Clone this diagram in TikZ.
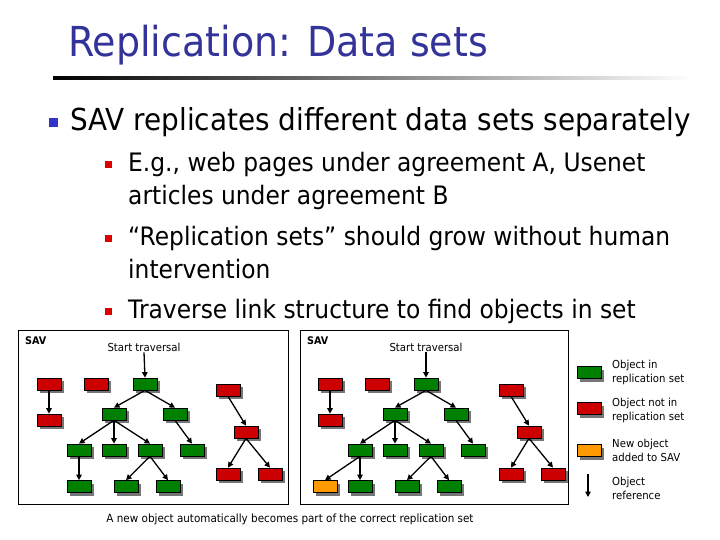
\documentclass[tikz,border=0pt]{standalone}
\usepackage{fontspec}
\setmainfont[FakeStretch=0.92]{DejaVu Sans}
\usetikzlibrary{arrows.meta,shadows}
\definecolor{titleblue}{RGB}{51,51,153}
\definecolor{bulletblue}{RGB}{51,51,204}
\definecolor{bulletred}{RGB}{221,0,0}
\definecolor{objgreen}{RGB}{0,128,0}
\definecolor{objred}{RGB}{204,0,0}
\definecolor{objorange}{RGB}{255,153,0}
\definecolor{shadowgray}{RGB}{118,118,118}
\begin{document}
\begin{tikzpicture}[x=1pt,y=-1pt,
  obj/.style={draw=black, line width=0.7pt, minimum width=24pt, minimum height=12pt, inner sep=0pt,
    drop shadow={shadow xshift=3pt, shadow yshift=-3pt, fill=shadowgray, opacity=1}},
  gobj/.style={obj, fill=objgreen},
  robj/.style={obj, fill=objred},
  oobj/.style={obj, fill=objorange},
  ref/.style={-{Triangle[length=5.5pt,width=5.5pt]}, line width=1.3pt},
  frame/.style={draw=black, line width=0.8pt},
  lbl/.style={inner sep=0pt, font=\fontsize{11}{14}\selectfont, align=left, anchor=west},
  l1/.style={inner sep=0pt, anchor=base west, font=\fontsize{30.3}{36}\selectfont},
  l2/.style={inner sep=0pt, anchor=base west, font=\fontsize{25.4}{31}\selectfont},
  sav/.style={inner sep=0pt, anchor=west, font=\fontsize{10.5}{12}\selectfont\bfseries},
  st/.style={inner sep=1pt, font=\fontsize{11}{13}\selectfont}
]
\useasboundingbox (0,0) rectangle (720,540);
\fill[white] (0,0) rectangle (720,540);

% Title
\node[inner sep=0pt, anchor=base west, text=titleblue, font=\fontsize{41.3}{48}\selectfont] (title) at (68,57) {Replication: Data sets};
\shade[left color=black, right color=white] (53,77) rectangle (693,80);

% Bullets
\node[fill=bulletblue, minimum size=9pt, inner sep=0pt] (b0) at (53,123) {};
\node[l1] (t0) at (70,131) {SAV replicates different data sets separately};
\node[fill=bulletred, minimum size=7pt, inner sep=0pt] (b1) at (108,165) {};
\node[l2] (t1a) at (128,172) {E.g., web pages under agreement A, Usenet};
\node[l2] (t1b) at (128,205) {articles under agreement B};
\node[fill=bulletred, minimum size=7pt, inner sep=0pt] (b2) at (108,238) {};
\node[l2] (t2a) at (128,245) {“Replication sets” should grow without human};
\node[l2] (t2b) at (128,278) {intervention};
\node[fill=bulletred, minimum size=7pt, inner sep=0pt] (b3) at (108,311) {};
\node[l2] (t3) at (128,318) {Traverse link structure to find objects in set};

% Left diagram
\draw[frame] (18,330) rectangle (288,504);
\node[sav] (Lsav) at (25,341) {SAV};
\node[st] (Lst) at (144,347) {Start traversal};
\node[robj] (LA1) at (49,384) {};
\node[robj] (LA2) at (49,420) {};
\node[robj] (LB) at (96,384) {};
\node[gobj] (LR) at (145,384) {};
\node[gobj] (L1a) at (114,414) {};
\node[gobj] (L1b) at (175,414) {};
\node[gobj] (L2a) at (79,450) {};
\node[gobj] (L2b) at (114,450) {};
\node[gobj] (L2c) at (150,450) {};
\node[gobj] (L2d) at (192,450) {};
\node[gobj] (L3a) at (79,486.5) {};
\node[gobj] (L3b) at (126,486.5) {};
\node[gobj] (L3c) at (168,486.5) {};
\node[robj] (LC1) at (228,390) {};
\node[robj] (LC2) at (246,432) {};
\node[robj] (LC3) at (228,474) {};
\node[robj] (LC4) at (270,474) {};
\draw[ref] (Lst.south) -- (LR.north);
\draw[ref] (LA1.south) -- (LA2.north);
\draw[ref] (LR.south) -- (L1a.north);
\draw[ref] (LR.south) -- (L1b.north);
\draw[ref] (L1a.south) -- (L2a.north);
\draw[ref] (L1a.south) -- (L2b.north);
\draw[ref] (L1a.south) -- (L2c.north);
\draw[ref] (L1b.south) -- (L2d.north);
\draw[ref] (L2a.south) -- (L3a.north);
\draw[ref] (L2c.south) -- (L3b.north);
\draw[ref] (L2c.south) -- (L3c.north);
\draw[ref] (LC1.south) -- (LC2.north);
\draw[ref] (LC2.south) -- (LC3.north);
\draw[ref] (LC2.south) -- (LC4.north);

% Right diagram
\draw[frame] (300,330) rectangle (568,504);
\node[sav] (Rsav) at (307,341) {SAV};
\node[st] (Rst) at (426,347) {Start traversal};
\node[robj] (RA1) at (330,384) {};
\node[robj] (RA2) at (330,420) {};
\node[robj] (RB) at (377,384) {};
\node[gobj] (RR) at (426,384) {};
\node[gobj] (R1a) at (395,414) {};
\node[gobj] (R1b) at (456,414) {};
\node[gobj] (R2a) at (360,450) {};
\node[gobj] (R2b) at (395,450) {};
\node[gobj] (R2c) at (431,450) {};
\node[gobj] (R2d) at (473,450) {};
\node[oobj] (R3n) at (325,486.5) {};
\node[gobj] (R3a) at (360,486.5) {};
\node[gobj] (R3b) at (407,486.5) {};
\node[gobj] (R3c) at (449,486.5) {};
\node[robj] (RC1) at (511,390) {};
\node[robj] (RC2) at (529,432) {};
\node[robj] (RC3) at (511,474) {};
\node[robj] (RC4) at (553,474) {};
\draw[ref] (Rst.south) -- (RR.north);
\draw[ref] (RA1.south) -- (RA2.north);
\draw[ref] (RR.south) -- (R1a.north);
\draw[ref] (RR.south) -- (R1b.north);
\draw[ref] (R1a.south) -- (R2a.north);
\draw[ref] (R1a.south) -- (R2b.north);
\draw[ref] (R1a.south) -- (R2c.north);
\draw[ref] (R1b.south) -- (R2d.north);
\draw[ref] (R2a.south) -- (R3n.north);
\draw[ref] (R2a.south) -- (R3a.north);
\draw[ref] (R2c.south) -- (R3b.north);
\draw[ref] (R2c.south) -- (R3c.north);
\draw[ref] (RC1.south) -- (RC2.north);
\draw[ref] (RC2.south) -- (RC3.north);
\draw[ref] (RC2.south) -- (RC4.north);

% Legend
\node[gobj] (kg) at (589,372.5) {};
\node[lbl] (kgt) at (612,372.5) {Object in\\replication set};
\node[robj] (kr) at (589,408.5) {};
\node[lbl] (krt) at (612,410.5) {Object not in\\replication set};
\node[oobj] (ko) at (589,450.5) {};
\node[lbl] (kot) at (612,450) {New object\\added to SAV};
\coordinate (ka) at (588,474);
\coordinate (kb) at (588,497);
\draw[ref] (ka) -- (kb);
\node[lbl] (kat) at (612,488.5) {Object\\reference};

% Caption
\node[inner sep=0pt, font=\fontsize{11.3}{13}\selectfont] (cap) at (290,519) {A new object automatically becomes part of the correct replication set};
\end{tikzpicture}
\end{document}
